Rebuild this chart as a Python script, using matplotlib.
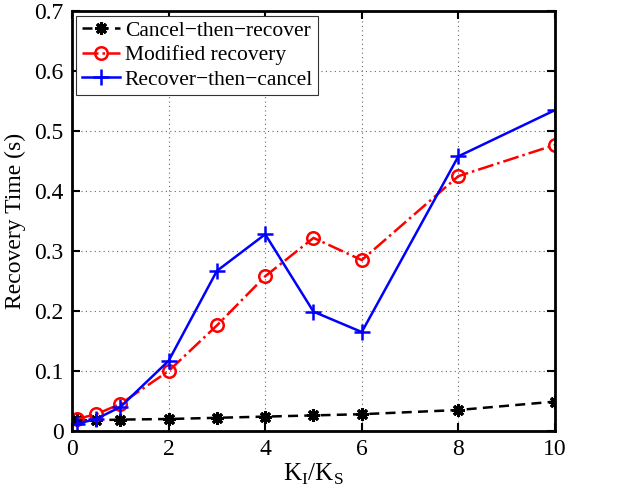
import matplotlib
matplotlib.use('Agg')
import matplotlib.pyplot as plt

plt.rcParams['font.family'] = ['Liberation Serif', 'DejaVu Serif']
plt.rcParams['axes.unicode_minus'] = True

ratio = [0.1, 0.5, 1, 2, 3, 4, 5, 6, 8, 10]
cancel_then_recover = [0.018, 0.018, 0.019, 0.020, 0.022, 0.024, 0.026, 0.028, 0.035, 0.049]
modified_recovery = [0.020, 0.028, 0.045, 0.100, 0.176, 0.258, 0.322, 0.285, 0.425, 0.477]
recover_then_cancel = [0.012, 0.020, 0.040, 0.117, 0.267, 0.328, 0.199, 0.165, 0.458, 0.535]

fig = plt.figure(figsize=(6.34, 4.87), dpi=100)
ax = fig.add_axes([0.1136, 0.115, 0.7617, 0.862])

ax.plot(ratio, cancel_then_recover, 'k--', marker=(8, 2, 0), markersize=9,
        markeredgewidth=2.2, linewidth=1.8, dashes=(4, 2.5),
        label='Cancel\u2212then\u2212recover')
ax.plot(ratio, modified_recovery, color='red', linestyle='-.', marker='o',
        markersize=9, markerfacecolor='none', markeredgewidth=1.8,
        linewidth=1.8, label='Modified recovery')
ax.plot(ratio, recover_then_cancel, color='blue', linestyle='-', marker='+',
        markersize=12, markeredgewidth=1.8, linewidth=1.8,
        label='Recover\u2212then\u2212cancel')

ax.set_xlim(0, 10)
ax.set_ylim(0, 0.7)
ax.set_xticks([0, 2, 4, 6, 8, 10])
ax.set_yticks([0, 0.1, 0.2, 0.3, 0.4, 0.5, 0.6, 0.7])
ax.set_yticklabels(['0', '0.1', '0.2', '0.3', '0.4', '0.5', '0.6', '0.7'])
ax.grid(True, linestyle=(0, (1, 3)), color='#666666', linewidth=0.8)
ax.tick_params(direction='in', top=True, right=True, labelsize=17, length=6,
               width=1.5, pad=6)
for s in ax.spines.values():
    s.set_linewidth(2)

ax.set_xlabel('K$_\\mathregular{I}$/K$_\\mathregular{S}$', fontsize=18, labelpad=1)
ax.set_ylabel('Recovery Time (s)', fontsize=17, labelpad=6)

leg = ax.legend(loc='upper left', fontsize=15.5, fancybox=False, edgecolor='#333333',
                framealpha=1, borderpad=0.25, labelspacing=0.2, handlelength=1.8,
                handletextpad=0.2, borderaxespad=0.2)
leg.get_frame().set_linewidth(0.8)

fig.savefig('out.png', dpi=100)
